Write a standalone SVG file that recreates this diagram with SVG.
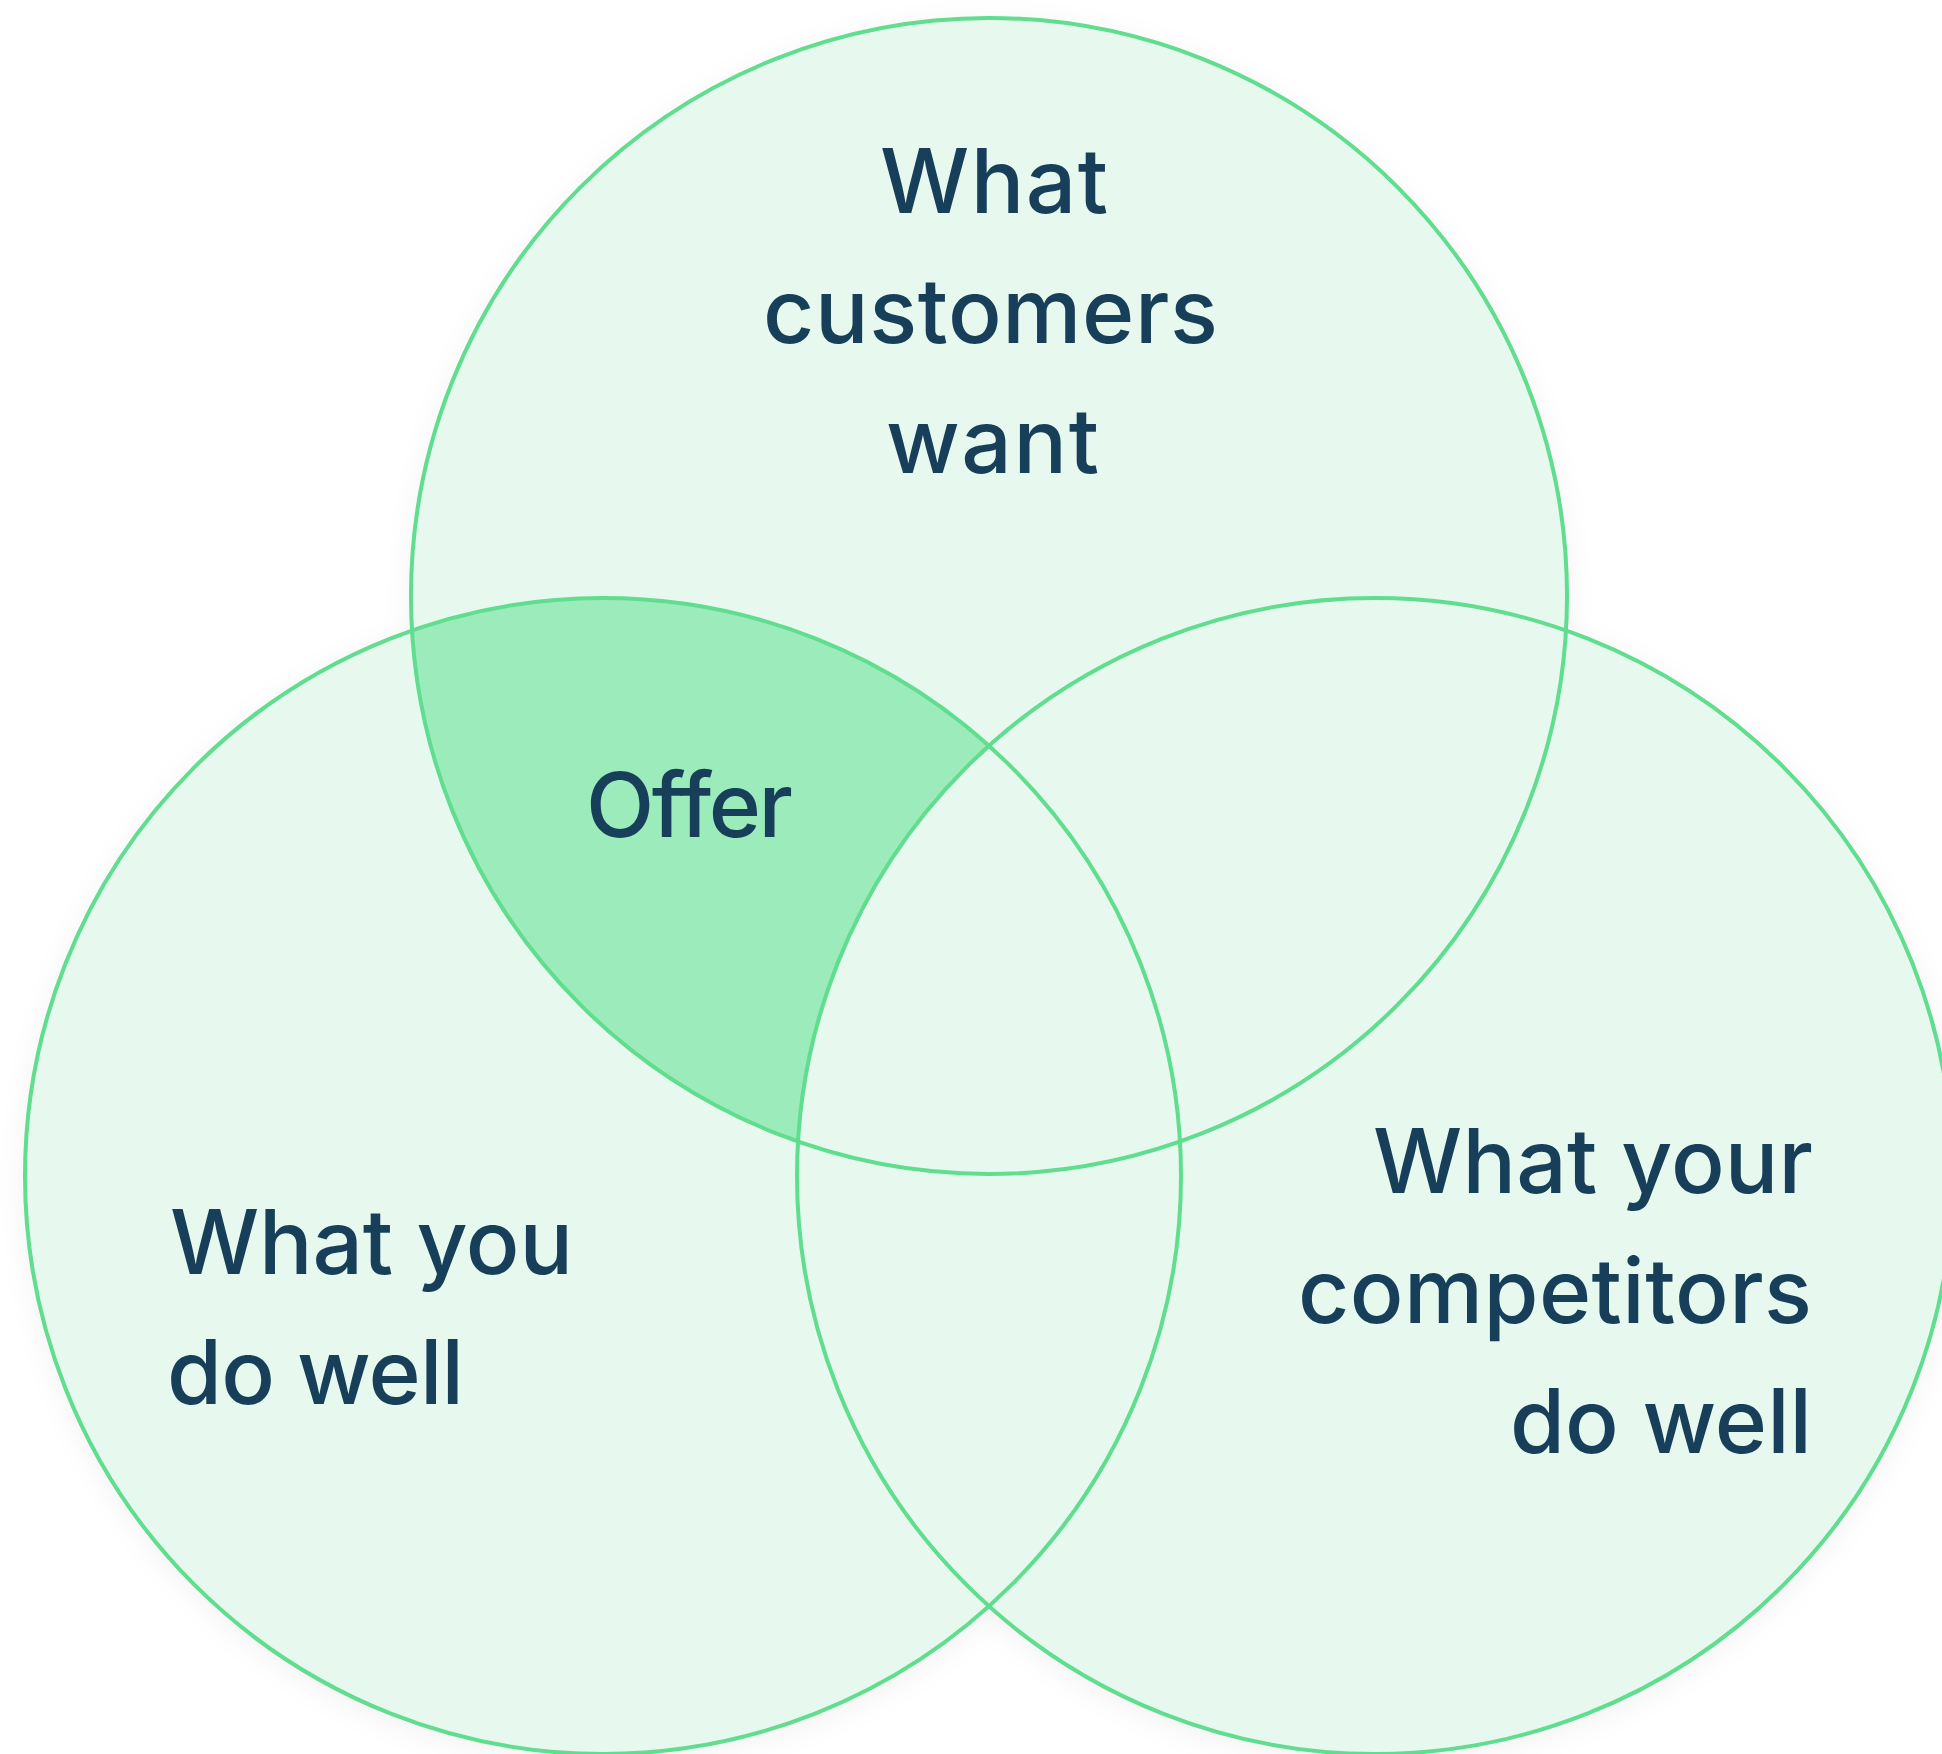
<svg xmlns="http://www.w3.org/2000/svg" width="1942" height="1754" viewBox="0 0 1942 1754">
  <style>
    .fill { fill: #E7F9EE; }
    .ring { fill: none; stroke: #60DD8E; stroke-width: 4; }
    .offer { fill: #9BEBBB; }
    .label { font-family: Inter, "Liberation Sans", sans-serif; font-size: 89px; font-weight: 500; fill: #173F5A; }
  </style>
  <defs>
    <filter id="shadow" x="-10%" y="-10%" width="120%" height="120%">
      <feDropShadow dx="0" dy="6" stdDeviation="14" flood-color="#000000" flood-opacity="0.06"/>
    </filter>
  </defs>
  <rect width="1942" height="1754" fill="#FFFFFF"/>

  <g id="fills" filter="url(#shadow)">
    <circle class="fill" cx="989" cy="596" r="578"/>
    <circle class="fill" cx="603" cy="1176" r="578"/>
    <circle class="fill" cx="1375" cy="1176" r="578"/>
  </g>

  <g id="offer">
    <path class="offer" d="M412,630.5 A578,578 0 0 1 989,745.8 A578,578 0 0 0 798,1141.5 A578,578 0 0 1 412,630.5 Z"/>
    <text class="label" x="586" y="837" textLength="207" lengthAdjust="spacing">Offer</text>
  </g>

  <g id="customers">
    <circle class="ring" cx="989" cy="596" r="578"/>
    <text class="label" x="880" y="213" textLength="228" lengthAdjust="spacing">What</text>
    <text class="label" x="763" y="343" textLength="455" lengthAdjust="spacing">customers</text>
    <text class="label" x="886" y="473" textLength="213" lengthAdjust="spacing">want</text>
  </g>

  <g id="you">
    <circle class="ring" cx="603" cy="1176" r="578"/>
    <text class="label" x="170" y="1274" textLength="403" lengthAdjust="spacing">What you</text>
    <text class="label" x="167" y="1404" textLength="297" lengthAdjust="spacing">do well</text>
  </g>

  <g id="competitors">
    <circle class="ring" cx="1375" cy="1176" r="578"/>
    <text class="label" x="1373" y="1193" textLength="440" lengthAdjust="spacing">What your</text>
    <text class="label" x="1298" y="1323" textLength="514" lengthAdjust="spacing">competitors</text>
    <text class="label" x="1510" y="1453" textLength="302" lengthAdjust="spacing">do well</text>
  </g>

  <g id="connectors"/>
</svg>
